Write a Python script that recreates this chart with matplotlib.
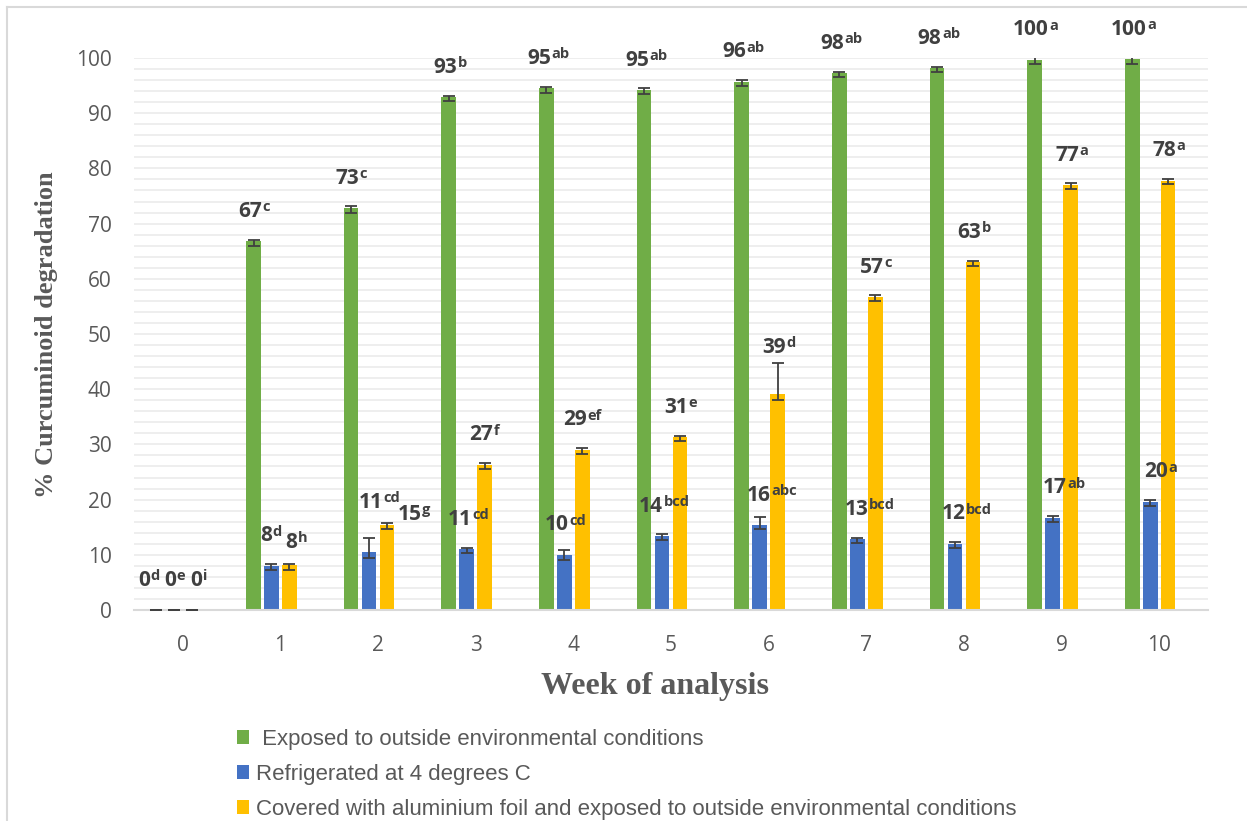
import matplotlib.pyplot as plt
from matplotlib.patches import Patch
from matplotlib.lines import Line2D
import numpy as np

# data
weeks = list(range(11))
series_names = [' Exposed to outside environmental conditions',
                'Refrigerated at 4 degrees C',
                'Covered with aluminium foil and exposed to outside environmental conditions']

exposed = [0, 66.8, 72.8, 92.9, 94.5, 94.2, 95.7, 97.2, 98.1, 99.7, 99.8]
refrig = [0, 8.0, 10.5, 11.0, 10.0, 13.4, 15.4, 12.8, 12.0, 16.7, 19.6]
foil = [0, 8.1, 15.4, 26.3, 29.0, 31.3, 39.2, 56.7, 63.0, 77.0, 77.8]

exposed_err_lo = [0, 0.9, 0.8, 0.7, 0.8, 0.7, 0.8, 0.7, 0.7, 0.7, 0.8]
exposed_err_hi = [0, 0.3, 0.3, 0.3, 0.3, 0.3, 0.3, 0.3, 0.3, 0.4, 0.3]
refrig_err_lo = [0, 0.8, 1.1, 0.7, 1.0, 0.7, 0.7, 0.7, 0.7, 0.7, 0.7]
refrig_err_hi = [0, 0.3, 2.5, 0.3, 0.9, 0.3, 1.4, 0.3, 0.3, 0.3, 0.3]
foil_err_lo = [0, 0.8, 0.8, 0.7, 0.8, 0.7, 1.1, 0.7, 0.7, 0.7, 0.7]
foil_err_hi = [0, 0.3, 0.4, 0.3, 0.4, 0.3, 5.5, 0.3, 0.3, 0.3, 0.3]

exposed_labels = ['0', '67', '73', '93', '95', '95', '96', '98', '98', '100', '100']
exposed_sig = ['d', 'c', 'c', 'b', 'ab', 'ab', 'ab', 'ab', 'ab', 'a', 'a']
refrig_labels = ['0', '8', '11', '11', '10', '14', '16', '13', '12', '17', '20']
refrig_sig = ['e', 'd', 'cd', 'cd', 'cd', 'bcd', 'abc', 'bcd', 'bcd', 'ab', 'a']
foil_labels = ['0', '8', '15', '27', '29', '31', '39', '57', '63', '77', '78']
foil_sig = ['i', 'h', 'g', 'f', 'ef', 'e', 'd', 'c', 'b', 'a', 'a']

colors = ['#70AD47', '#4472C4', '#FFC000']

W, H = 1247, 821
fig = plt.figure(figsize=(W / 100, H / 100), dpi=100)
ax = fig.add_axes([134 / W, (H - 610) / H, (1208 - 134) / W, (610 - 58) / H])

# frame of the original picture (left and top edges only)
fig.add_artist(Line2D([7 / W, 7 / W], [0, 1 - 7 / H], color='#D9D9D9', lw=1.5))
fig.add_artist(Line2D([7 / W, 1], [1 - 7 / H, 1 - 7 / H], color='#D9D9D9', lw=1.5))

x = np.arange(len(weeks))
slot = 0.184   # 4 slots per group, 4th one empty like in the Excel original
bw = 0.15
offsets = [-1.5 * slot, -0.5 * slot, 0.5 * slot]

vals = [exposed, refrig, foil]
errs = [(exposed_err_lo, exposed_err_hi), (refrig_err_lo, refrig_err_hi), (foil_err_lo, foil_err_hi)]
labels = [(exposed_labels, exposed_sig), (refrig_labels, refrig_sig), (foil_labels, foil_sig)]

# manual nudges of labels (dx, dy) in points, keyed by (series, week)
nudges = {(0, 0): (-6, 0), (2, 0): (6, 0),
          (1, 1): (-1, 0), (2, 1): (4, -5),
          (1, 2): (6.5, 14), (2, 2): (19, -14),
          (2, 6): (0, 12)}
for wk in range(6, 11):
    nudges[(1, wk)] = (7, 0)

lab_font = dict(family='Open Sans', weight='bold', color='#404040')

for s in range(3):
    xs = x + offsets[s]
    ax.bar(xs, vals[s], width=bw, color=colors[s], zorder=2, label=series_names[s])
    ax.errorbar(xs, vals[s], yerr=[errs[s][0], errs[s][1]], fmt='none',
                ecolor='#404040', elinewidth=1.3, capsize=4, capthick=1.3, zorder=3)
    for i in range(len(weeks)):
        dx, dy = nudges.get((s, i), (0, 0))
        sig = labels[s][1][i]
        # shift the number left by half the superscript width so the pair is centred
        main = ax.annotate(labels[s][0][i], (xs[i], vals[s][i]),
                           xytext=(dx - 2.6 * len(sig), 14 + dy),
                           textcoords='offset points', ha='center', va='bottom',
                           fontsize=15, annotation_clip=False, **lab_font)
        ax.annotate(sig, xy=(1, 1), xycoords=main, xytext=(0.3, 0.5),
                    textcoords='offset points', ha='left', va='top',
                    fontsize=10.5, annotation_clip=False, **lab_font)

ax.set_xlim(-0.5, 10.5)
ax.set_ylim(0, 100)
ax.set_yticks(range(0, 101, 10))
ax.set_yticks(range(0, 101, 2), minor=True)
ax.set_xticks(x)
ax.set_xticklabels([str(w) for w in weeks])
ax.grid(axis='y', which='both', color='#EDEDED', lw=1.3, zorder=0)
ax.set_axisbelow(True)
for sp in ['left', 'right', 'top']:
    ax.spines[sp].set_visible(False)
ax.spines['bottom'].set_color('#D9D9D9')
ax.spines['bottom'].set_linewidth(1.5)
ax.tick_params(axis='both', which='both', length=0, labelsize=15, labelcolor='#595959')
ax.tick_params(axis='y', pad=16)
ax.tick_params(axis='x', pad=18)
for t in ax.get_xticklabels() + ax.get_yticklabels():
    t.set_family('Open Sans')

fig.text(655 / W, 1 - 686 / H, 'Week of analysis', family='Liberation Serif',
         weight='bold', fontsize=23, color='#595959', ha='center', va='center')
fig.text(47 / W, 1 - 335 / H, '% Curcuminoid degradation', family='Liberation Serif',
         weight='bold', fontsize=19, color='#595959', ha='center', va='center', rotation=90)

handles = [Patch(facecolor=c, edgecolor='none') for c in colors]
fig.legend(handles, series_names, loc='upper left', bbox_to_anchor=(237 / W, 1 - 729 / H),
           frameon=False, handlelength=0.55, handleheight=0.6, handletextpad=0.3,
           labelspacing=0.62, prop={'family': 'Liberation Sans', 'size': 16},
           labelcolor='#595959', borderaxespad=0, borderpad=0)

fig.savefig('out.png', dpi=100)
